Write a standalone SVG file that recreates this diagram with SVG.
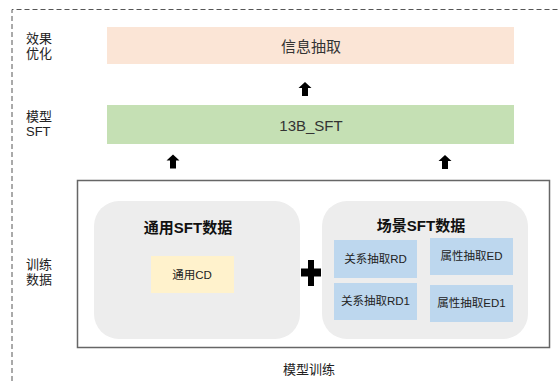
<svg xmlns="http://www.w3.org/2000/svg" width="558" height="381" viewBox="0 0 558 381">
<style>
text{font-family:"Liberation Sans","Noto Sans CJK SC",sans-serif;fill:#222}
.lbl{font-size:13px}
.big{font-size:15px;text-anchor:middle;dominant-baseline:central;fill:#333}
.ttl{font-size:15px;font-weight:bold;text-anchor:middle;dominant-baseline:central;fill:#111}
.sm{font-size:11.5px;text-anchor:middle;dominant-baseline:central;fill:#222}
.blue{fill:#BDD7EE}
.grey{fill:#EDEDED}
.arrow{fill:#000}
</style>
<defs>
<path id="up" d="M0,-7 L6.5,-1 L3,-1 L3,7 L-3,7 L-3,-1 L-6.5,-1 Z"/>
</defs>
<rect x="0" y="0" width="558" height="381" fill="#fff"/>
<path d="M12,381 L12,9.5 L558,9.5" fill="none" stroke="#555" stroke-width="1" stroke-dasharray="5,3"/>
<g id="side-labels">
<text class="lbl" x="26" y="43">效果</text>
<text class="lbl" x="26" y="58">优化</text>
<text class="lbl" x="26" y="121">模型</text>
<text class="lbl" x="26" y="136">SFT</text>
<text class="lbl" x="26" y="269">训练</text>
<text class="lbl" x="26" y="284">数据</text>
</g>
<g id="info-extract">
<rect x="107" y="27" width="407" height="37" fill="#FBE5D6"/>
<text class="big" x="311" y="46">信息抽取</text>
</g>
<g id="sft-13b">
<rect x="107" y="105" width="407" height="39" fill="#C5E0B4"/>
<text class="big" x="311" y="125">13B_SFT</text>
</g>
<g id="training">
<rect x="77.5" y="180.5" width="472" height="167" fill="#fff" stroke="#666" stroke-width="1.5"/>
<text class="lbl" x="283" y="374">模型训练</text>
</g>
<g id="general-sft">
<rect class="grey" x="94" y="201" width="206" height="138" rx="25"/>
<text class="ttl" x="188" y="227">通用SFT数据</text>
</g>
<g id="general-cd">
<rect x="151" y="256" width="83" height="37" fill="#FFF2CC"/>
<text class="sm" x="192" y="275">通用CD</text>
</g>
<g id="scene-sft">
<rect class="grey" x="322" y="201" width="206" height="138" rx="25"/>
<text class="ttl" x="421" y="225">场景SFT数据</text>
</g>
<g id="rd">
<rect class="blue" x="334" y="240" width="83" height="38"/>
<text class="sm" x="375.5" y="259">关系抽取RD</text>
</g>
<g id="ed">
<rect class="blue" x="430" y="238" width="83" height="37"/>
<text class="sm" x="471.5" y="256">属性抽取ED</text>
</g>
<g id="rd1">
<rect class="blue" x="334" y="283" width="83" height="37"/>
<text class="sm" x="375.5" y="301">关系抽取RD1</text>
</g>
<g id="ed1">
<rect class="blue" x="430" y="285" width="83" height="37"/>
<text class="sm" x="471.5" y="303">属性抽取ED1</text>
</g>
<g id="connectors">
<use href="#up" class="arrow" x="305" y="89"/>
<use href="#up" class="arrow" x="173" y="161.5"/>
<use href="#up" class="arrow" x="445" y="162"/>
<path class="arrow" d="M308,260 H314 V268.5 H321 V276.5 H314 V286 H308 V276.5 H301 V268.5 H308 Z"/>
</g>
</svg>
